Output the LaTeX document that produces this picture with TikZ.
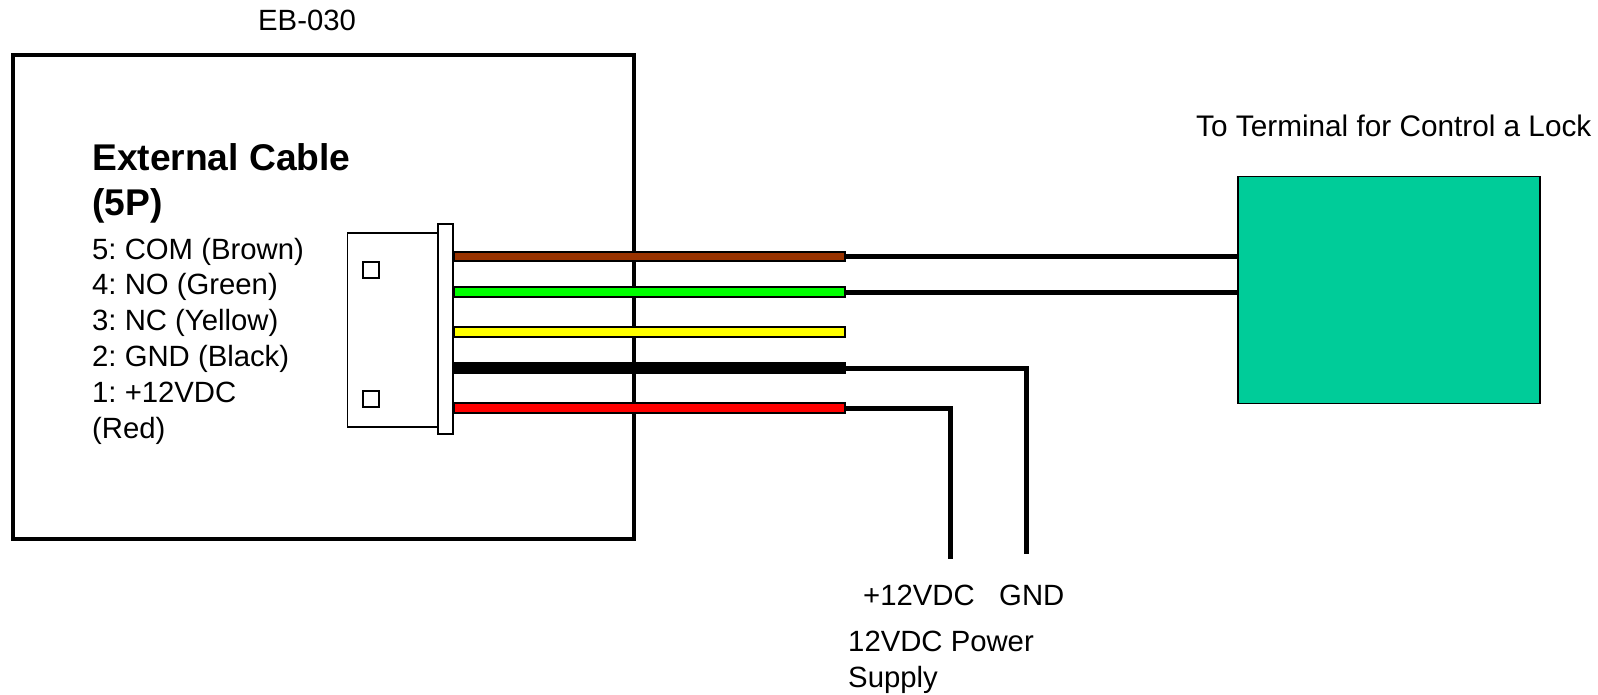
\documentclass[tikz,border=0pt]{standalone}
\usepackage{fontspec}
\setmainfont{Liberation Sans}
\definecolor{brownw}{RGB}{153,51,0}
\definecolor{greenw}{RGB}{0,255,0}
\definecolor{yelloww}{RGB}{255,255,0}
\definecolor{redw}{RGB}{255,0,0}
\definecolor{term}{RGB}{0,204,153}
\tikzset{
 x=1pt,y=-1pt,
 lbl/.style={inner sep=0pt,anchor=base west,font=\fontsize{29.3}{29.3}\selectfont\frenchspacing},
 ttl/.style={inner sep=0pt,anchor=base west,font=\fontsize{37.2}{37.2}\selectfont\bfseries},
 part/.style={draw=black,fill=white,line width=1.8pt,inner sep=0pt,rectangle},
 wirebox/.style={draw=black,line width=2.2pt,inner sep=0pt,minimum height=9.5pt,minimum width=391pt,rectangle},
 lead/.style={draw=black,line width=5pt,line join=miter},
}
\begin{document}
\begin{tikzpicture}
\useasboundingbox (0,0) rectangle (1598,694);
\node[draw=black,line width=3.2pt,minimum width=621pt,minimum height=484pt,inner sep=0pt] (eb) at (323.5,297) {};
\node[part,minimum width=90pt,minimum height=194pt] (body) at (392.5,330) {};
\node[part,minimum width=15.5pt,minimum height=210pt] (flange) at (445.5,329) {};
\node[part,minimum width=16pt,minimum height=16pt] (sq1) at (371,270) {};
\node[part,minimum width=16pt,minimum height=16pt] (sq2) at (371,399) {};
\node[wirebox,fill=brownw] (w5) at (649.5,256.5) {};
\node[wirebox,fill=greenw] (w4) at (649.5,292) {};
\node[wirebox,fill=yelloww] (w3) at (649.5,332) {};
\node[wirebox,fill=black,minimum height=9.5pt] (w2) at (649.5,368) {};
\node[wirebox,fill=redw] (w1) at (649.5,408) {};
\node[draw=black,line width=1.6pt,fill=term,minimum width=302pt,minimum height=227pt,inner sep=0pt] (lock) at (1389,290) {};
\coordinate (gndEnd) at (1026.5,554);
\coordinate (pwrEnd) at (950.5,559);
\draw[lead] (w5.east) -- (w5.east -| lock.west);
\draw[lead] (w4.east) -- (w4.east -| lock.west);
\draw[lead] (w2.east) -| (gndEnd);
\draw[lead] (w1.east) -| (pwrEnd);
\node[lbl] (t1) at (258,30) {EB-030};
\node[lbl,font=\fontsize{29.75}{29.75}\selectfont] (t2) at (1196,136) {To Terminal for Control a Lock};
\node[ttl] (t3) at (92,170) {External Cable};
\node[ttl] (t4) at (92,215) {(5P)};
\node[lbl] (t5) at (92,259) {5: COM (Brown)};
\node[lbl] (t6) at (92,294.5) {4: NO (Green)};
\node[lbl] (t7) at (92,330) {3: NC (Yellow)};
\node[lbl] (t8) at (92,366) {2: GND (Black)};
\node[lbl] (t9) at (92,402) {1: +12VDC};
\node[lbl] (t10) at (92,438) {(Red)};
\node[lbl] (t11) at (863,605) {+12VDC};
\node[lbl] (t12) at (999,605) {GND};
\node[lbl] (t13) at (848,651) {12VDC Power};
\node[lbl] (t14) at (848,687) {Supply};
\end{tikzpicture}
\end{document}
